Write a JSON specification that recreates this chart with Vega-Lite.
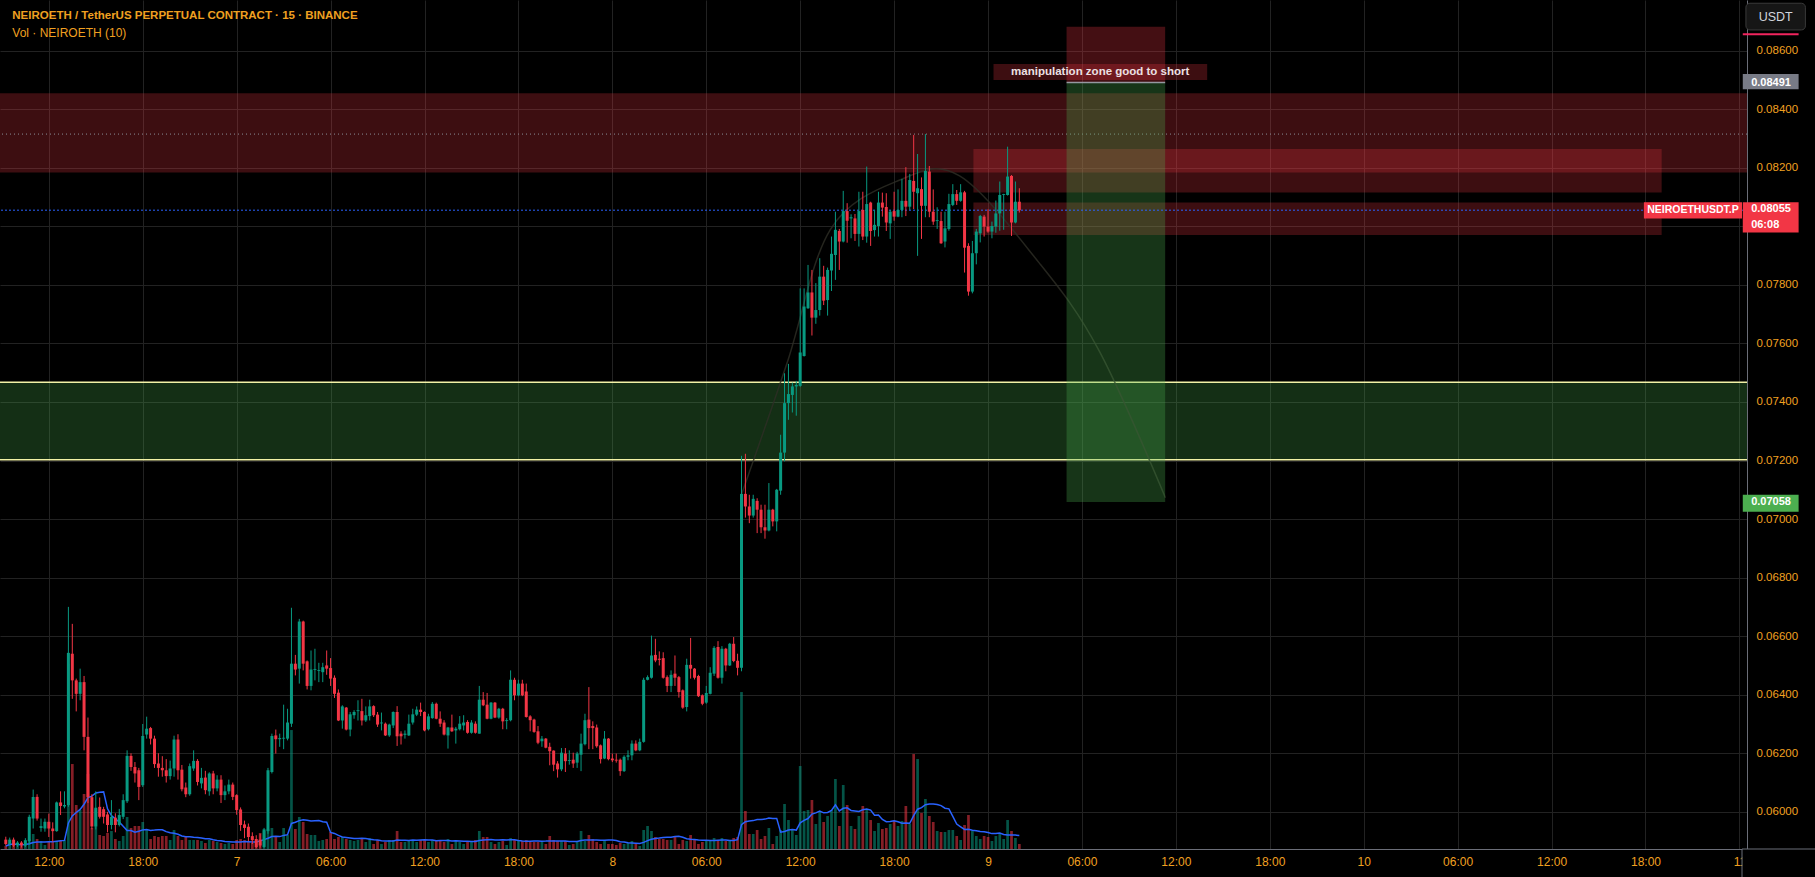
{
"$schema":"https://vega.github.io/schema/vega-lite/v6.json",
"width":1747,"height":849,
"autosize":{"type":"none"},
"padding":{"left":0,"top":0,"right":68,"bottom":28},
"background":"#000000",
"config":{"view":{"stroke":null},"text":{"font":"Liberation Sans"}},
"datasets":{
"candles":[
{"t":"2024-10-06T09:15Z","o":0.05905,"h":0.05915,"l":0.05885,"c":0.0589,"v":3},
{"t":"2024-10-06T09:30Z","o":0.0589,"h":0.05912,"l":0.05885,"c":0.05905,"v":6},
{"t":"2024-10-06T09:45Z","o":0.05905,"h":0.05912,"l":0.0588,"c":0.05885,"v":6},
{"t":"2024-10-06T10:00Z","o":0.05885,"h":0.059,"l":0.0588,"c":0.05895,"v":3},
{"t":"2024-10-06T10:15Z","o":0.05895,"h":0.059,"l":0.05878,"c":0.05885,"v":3},
{"t":"2024-10-06T10:30Z","o":0.05885,"h":0.0591,"l":0.0588,"c":0.05903,"v":6},
{"t":"2024-10-06T10:45Z","o":0.059,"h":0.0599,"l":0.05888,"c":0.05983,"v":10},
{"t":"2024-10-06T11:00Z","o":0.05977,"h":0.06076,"l":0.05943,"c":0.06051,"v":15},
{"t":"2024-10-06T11:15Z","o":0.06051,"h":0.0606,"l":0.0597,"c":0.05977,"v":10},
{"t":"2024-10-06T11:30Z","o":0.05945,"h":0.05977,"l":0.05932,"c":0.05951,"v":8},
{"t":"2024-10-06T11:45Z","o":0.05943,"h":0.05977,"l":0.05932,"c":0.05966,"v":4},
{"t":"2024-10-06T12:00Z","o":0.05966,"h":0.05994,"l":0.05914,"c":0.05943,"v":7},
{"t":"2024-10-06T12:15Z","o":0.05943,"h":0.05964,"l":0.05898,"c":0.05934,"v":7},
{"t":"2024-10-06T12:30Z","o":0.05934,"h":0.06035,"l":0.05932,"c":0.06032,"v":8},
{"t":"2024-10-06T12:45Z","o":0.06032,"h":0.0607,"l":0.05989,"c":0.0602,"v":8},
{"t":"2024-10-06T13:00Z","o":0.06018,"h":0.0607,"l":0.06012,"c":0.06023,"v":9},
{"t":"2024-10-06T13:15Z","o":0.06023,"h":0.067,"l":0.06017,"c":0.06543,"v":185},
{"t":"2024-10-06T13:30Z","o":0.0654,"h":0.06642,"l":0.06386,"c":0.06449,"v":85},
{"t":"2024-10-06T13:45Z","o":0.06449,"h":0.06455,"l":0.06343,"c":0.06403,"v":44},
{"t":"2024-10-06T14:00Z","o":0.06403,"h":0.06489,"l":0.06381,"c":0.06443,"v":39},
{"t":"2024-10-06T14:15Z","o":0.06443,"h":0.06464,"l":0.0621,"c":0.06256,"v":55},
{"t":"2024-10-06T14:30Z","o":0.06256,"h":0.06322,"l":0.0603,"c":0.0605,"v":75},
{"t":"2024-10-06T14:45Z","o":0.0605,"h":0.0606,"l":0.0594,"c":0.0595,"v":21},
{"t":"2024-10-06T15:00Z","o":0.0595,"h":0.0607,"l":0.0594,"c":0.06014,"v":40},
{"t":"2024-10-06T15:15Z","o":0.06017,"h":0.06049,"l":0.05977,"c":0.05983,"v":14},
{"t":"2024-10-06T15:30Z","o":0.06009,"h":0.06017,"l":0.0596,"c":0.05983,"v":13},
{"t":"2024-10-06T15:45Z","o":0.05991,"h":0.06,"l":0.0593,"c":0.05955,"v":16},
{"t":"2024-10-06T16:00Z","o":0.05955,"h":0.0604,"l":0.0594,"c":0.05983,"v":18},
{"t":"2024-10-06T16:15Z","o":0.0598,"h":0.05995,"l":0.0593,"c":0.05955,"v":10},
{"t":"2024-10-06T16:30Z","o":0.05955,"h":0.0601,"l":0.0595,"c":0.05989,"v":8},
{"t":"2024-10-06T16:45Z","o":0.05983,"h":0.0606,"l":0.05975,"c":0.0604,"v":13},
{"t":"2024-10-06T17:00Z","o":0.06036,"h":0.0621,"l":0.0603,"c":0.06191,"v":32},
{"t":"2024-10-06T17:15Z","o":0.06191,"h":0.062,"l":0.0614,"c":0.06153,"v":21},
{"t":"2024-10-06T17:30Z","o":0.06153,"h":0.0617,"l":0.061,"c":0.06131,"v":23},
{"t":"2024-10-06T17:45Z","o":0.06142,"h":0.0615,"l":0.0604,"c":0.06085,"v":23},
{"t":"2024-10-06T18:00Z","o":0.06091,"h":0.063,"l":0.06085,"c":0.06259,"v":27},
{"t":"2024-10-06T18:15Z","o":0.06264,"h":0.06325,"l":0.0625,"c":0.06284,"v":19},
{"t":"2024-10-06T18:30Z","o":0.06286,"h":0.0629,"l":0.0623,"c":0.0625,"v":10},
{"t":"2024-10-06T18:45Z","o":0.0625,"h":0.0626,"l":0.0615,"c":0.06163,"v":13},
{"t":"2024-10-06T19:00Z","o":0.06165,"h":0.062,"l":0.0612,"c":0.0615,"v":12},
{"t":"2024-10-06T19:15Z","o":0.0615,"h":0.0619,"l":0.0612,"c":0.06142,"v":13},
{"t":"2024-10-06T19:30Z","o":0.06142,"h":0.0618,"l":0.061,"c":0.06122,"v":13},
{"t":"2024-10-06T19:45Z","o":0.06122,"h":0.06175,"l":0.0611,"c":0.06148,"v":9},
{"t":"2024-10-06T20:00Z","o":0.06148,"h":0.0626,"l":0.0612,"c":0.06247,"v":19},
{"t":"2024-10-06T20:15Z","o":0.06247,"h":0.06265,"l":0.0611,"c":0.06142,"v":13},
{"t":"2024-10-06T20:30Z","o":0.06144,"h":0.0616,"l":0.0607,"c":0.06077,"v":9},
{"t":"2024-10-06T20:45Z","o":0.06083,"h":0.061,"l":0.0605,"c":0.0606,"v":12},
{"t":"2024-10-06T21:00Z","o":0.0606,"h":0.06165,"l":0.06055,"c":0.06156,"v":9},
{"t":"2024-10-06T21:15Z","o":0.06148,"h":0.0621,"l":0.0614,"c":0.06174,"v":9},
{"t":"2024-10-06T21:30Z","o":0.06174,"h":0.0618,"l":0.0609,"c":0.06102,"v":9},
{"t":"2024-10-06T21:45Z","o":0.06097,"h":0.0615,"l":0.0608,"c":0.06116,"v":8},
{"t":"2024-10-06T22:00Z","o":0.06117,"h":0.0614,"l":0.0606,"c":0.06074,"v":6},
{"t":"2024-10-06T22:15Z","o":0.0607,"h":0.06135,"l":0.06055,"c":0.06131,"v":9},
{"t":"2024-10-06T22:30Z","o":0.06131,"h":0.0614,"l":0.0606,"c":0.0608,"v":8},
{"t":"2024-10-06T22:45Z","o":0.0608,"h":0.06125,"l":0.0607,"c":0.0611,"v":7},
{"t":"2024-10-06T23:00Z","o":0.0611,"h":0.06125,"l":0.0603,"c":0.06057,"v":6},
{"t":"2024-10-06T23:15Z","o":0.06057,"h":0.0609,"l":0.0604,"c":0.0607,"v":5},
{"t":"2024-10-06T23:30Z","o":0.0607,"h":0.0611,"l":0.0606,"c":0.06093,"v":6},
{"t":"2024-10-06T23:45Z","o":0.06093,"h":0.061,"l":0.0604,"c":0.06051,"v":5},
{"t":"2024-10-07T00:00Z","o":0.06057,"h":0.0606,"l":0.0599,"c":0.06006,"v":9},
{"t":"2024-10-07T00:15Z","o":0.06008,"h":0.06015,"l":0.05935,"c":0.05955,"v":10},
{"t":"2024-10-07T00:30Z","o":0.05957,"h":0.0597,"l":0.0591,"c":0.05945,"v":9},
{"t":"2024-10-07T00:45Z","o":0.05949,"h":0.0596,"l":0.059,"c":0.05914,"v":7},
{"t":"2024-10-07T01:00Z","o":0.05917,"h":0.0593,"l":0.0589,"c":0.05903,"v":6},
{"t":"2024-10-07T01:15Z","o":0.05907,"h":0.0592,"l":0.05876,"c":0.0588,"v":8},
{"t":"2024-10-07T01:30Z","o":0.05905,"h":0.05925,"l":0.05878,"c":0.05885,"v":16},
{"t":"2024-10-07T01:45Z","o":0.0588,"h":0.05945,"l":0.05877,"c":0.0594,"v":18},
{"t":"2024-10-07T02:00Z","o":0.05934,"h":0.0615,"l":0.05925,"c":0.06142,"v":20},
{"t":"2024-10-07T02:15Z","o":0.06136,"h":0.06267,"l":0.06131,"c":0.06259,"v":21},
{"t":"2024-10-07T02:30Z","o":0.06261,"h":0.06281,"l":0.06199,"c":0.06248,"v":12},
{"t":"2024-10-07T02:45Z","o":0.06248,"h":0.06267,"l":0.06222,"c":0.06252,"v":7},
{"t":"2024-10-07T03:00Z","o":0.0625,"h":0.06366,"l":0.06214,"c":0.06253,"v":21},
{"t":"2024-10-07T03:15Z","o":0.0625,"h":0.06352,"l":0.06244,"c":0.06305,"v":14},
{"t":"2024-10-07T03:30Z","o":0.06301,"h":0.06697,"l":0.0629,"c":0.06506,"v":119},
{"t":"2024-10-07T03:45Z","o":0.06506,"h":0.06536,"l":0.06466,"c":0.06486,"v":20},
{"t":"2024-10-07T04:00Z","o":0.06489,"h":0.06659,"l":0.06438,"c":0.0665,"v":32},
{"t":"2024-10-07T04:15Z","o":0.0665,"h":0.06653,"l":0.06483,"c":0.06506,"v":27},
{"t":"2024-10-07T04:30Z","o":0.06514,"h":0.06517,"l":0.06418,"c":0.0643,"v":15},
{"t":"2024-10-07T04:45Z","o":0.0643,"h":0.06551,"l":0.06415,"c":0.06486,"v":14},
{"t":"2024-10-07T05:00Z","o":0.06485,"h":0.06557,"l":0.06449,"c":0.06488,"v":14},
{"t":"2024-10-07T05:15Z","o":0.06481,"h":0.06509,"l":0.06443,"c":0.06484,"v":8},
{"t":"2024-10-07T05:30Z","o":0.06477,"h":0.06509,"l":0.06443,"c":0.06494,"v":9},
{"t":"2024-10-07T05:45Z","o":0.065,"h":0.06551,"l":0.06468,"c":0.06489,"v":10},
{"t":"2024-10-07T06:00Z","o":0.06491,"h":0.06525,"l":0.0643,"c":0.06455,"v":17},
{"t":"2024-10-07T06:15Z","o":0.06458,"h":0.06466,"l":0.06389,"c":0.06403,"v":10},
{"t":"2024-10-07T06:30Z","o":0.06407,"h":0.06418,"l":0.0631,"c":0.06312,"v":12},
{"t":"2024-10-07T06:45Z","o":0.06312,"h":0.06364,"l":0.06284,"c":0.0636,"v":12},
{"t":"2024-10-07T07:00Z","o":0.06356,"h":0.06358,"l":0.06278,"c":0.06281,"v":10},
{"t":"2024-10-07T07:15Z","o":0.06281,"h":0.06341,"l":0.06258,"c":0.06333,"v":9},
{"t":"2024-10-07T07:30Z","o":0.0633,"h":0.06347,"l":0.06318,"c":0.06341,"v":8},
{"t":"2024-10-07T07:45Z","o":0.06344,"h":0.06381,"l":0.06312,"c":0.06347,"v":9},
{"t":"2024-10-07T08:00Z","o":0.06344,"h":0.06386,"l":0.06295,"c":0.06312,"v":10},
{"t":"2024-10-07T08:15Z","o":0.06312,"h":0.0636,"l":0.06307,"c":0.0633,"v":7},
{"t":"2024-10-07T08:30Z","o":0.06327,"h":0.06383,"l":0.06312,"c":0.0636,"v":11},
{"t":"2024-10-07T08:45Z","o":0.06361,"h":0.06364,"l":0.06324,"c":0.0633,"v":5},
{"t":"2024-10-07T09:00Z","o":0.06332,"h":0.06341,"l":0.0629,"c":0.06298,"v":9},
{"t":"2024-10-07T09:15Z","o":0.06302,"h":0.06339,"l":0.06278,"c":0.06305,"v":5},
{"t":"2024-10-07T09:30Z","o":0.06301,"h":0.06305,"l":0.06259,"c":0.06261,"v":7},
{"t":"2024-10-07T09:45Z","o":0.06261,"h":0.06301,"l":0.06256,"c":0.06298,"v":9},
{"t":"2024-10-07T10:00Z","o":0.06295,"h":0.06343,"l":0.06286,"c":0.06341,"v":9},
{"t":"2024-10-07T10:15Z","o":0.06341,"h":0.06361,"l":0.06225,"c":0.06258,"v":18},
{"t":"2024-10-07T10:30Z","o":0.06267,"h":0.06275,"l":0.0623,"c":0.06258,"v":7},
{"t":"2024-10-07T10:45Z","o":0.06263,"h":0.06278,"l":0.0625,"c":0.06267,"v":7},
{"t":"2024-10-07T11:00Z","o":0.06261,"h":0.06332,"l":0.06259,"c":0.06301,"v":9},
{"t":"2024-10-07T11:15Z","o":0.06305,"h":0.06352,"l":0.06298,"c":0.06333,"v":9},
{"t":"2024-10-07T11:30Z","o":0.06332,"h":0.0636,"l":0.06327,"c":0.06349,"v":7},
{"t":"2024-10-07T11:45Z","o":0.06349,"h":0.06373,"l":0.06327,"c":0.06341,"v":9},
{"t":"2024-10-07T12:00Z","o":0.06341,"h":0.06343,"l":0.06275,"c":0.06278,"v":9},
{"t":"2024-10-07T12:15Z","o":0.06282,"h":0.06335,"l":0.06278,"c":0.06326,"v":7},
{"t":"2024-10-07T12:30Z","o":0.0632,"h":0.06375,"l":0.06318,"c":0.06369,"v":9},
{"t":"2024-10-07T12:45Z","o":0.06369,"h":0.06373,"l":0.06316,"c":0.06318,"v":9},
{"t":"2024-10-07T13:00Z","o":0.06318,"h":0.06343,"l":0.0629,"c":0.06301,"v":9},
{"t":"2024-10-07T13:15Z","o":0.06305,"h":0.06313,"l":0.06261,"c":0.06264,"v":7},
{"t":"2024-10-07T13:30Z","o":0.06261,"h":0.0629,"l":0.06216,"c":0.06288,"v":10},
{"t":"2024-10-07T13:45Z","o":0.06288,"h":0.06332,"l":0.06273,"c":0.06275,"v":5},
{"t":"2024-10-07T14:00Z","o":0.06278,"h":0.0629,"l":0.06233,"c":0.06284,"v":9},
{"t":"2024-10-07T14:15Z","o":0.06282,"h":0.06327,"l":0.06278,"c":0.06301,"v":7},
{"t":"2024-10-07T14:30Z","o":0.06295,"h":0.0633,"l":0.06278,"c":0.06305,"v":5},
{"t":"2024-10-07T14:45Z","o":0.06307,"h":0.06313,"l":0.06267,"c":0.0627,"v":7},
{"t":"2024-10-07T15:00Z","o":0.0627,"h":0.06313,"l":0.06267,"c":0.06305,"v":8},
{"t":"2024-10-07T15:15Z","o":0.06301,"h":0.06309,"l":0.06267,"c":0.0627,"v":9},
{"t":"2024-10-07T15:30Z","o":0.06267,"h":0.0643,"l":0.06267,"c":0.06383,"v":18},
{"t":"2024-10-07T15:45Z","o":0.06383,"h":0.06409,"l":0.06361,"c":0.06364,"v":12},
{"t":"2024-10-07T16:00Z","o":0.06366,"h":0.06406,"l":0.06316,"c":0.06318,"v":12},
{"t":"2024-10-07T16:15Z","o":0.06318,"h":0.06375,"l":0.06316,"c":0.06373,"v":7},
{"t":"2024-10-07T16:30Z","o":0.06373,"h":0.06375,"l":0.0632,"c":0.06322,"v":5},
{"t":"2024-10-07T16:45Z","o":0.06322,"h":0.06355,"l":0.06318,"c":0.06352,"v":7},
{"t":"2024-10-07T17:00Z","o":0.06352,"h":0.06355,"l":0.06282,"c":0.06309,"v":8},
{"t":"2024-10-07T17:15Z","o":0.0631,"h":0.0632,"l":0.06282,"c":0.06313,"v":4},
{"t":"2024-10-07T17:30Z","o":0.06313,"h":0.06483,"l":0.06309,"c":0.06451,"v":11},
{"t":"2024-10-07T17:45Z","o":0.06451,"h":0.06458,"l":0.06381,"c":0.06398,"v":9},
{"t":"2024-10-07T18:00Z","o":0.06398,"h":0.06451,"l":0.06395,"c":0.06438,"v":9},
{"t":"2024-10-07T18:15Z","o":0.06438,"h":0.06451,"l":0.06395,"c":0.06398,"v":8},
{"t":"2024-10-07T18:30Z","o":0.06411,"h":0.06438,"l":0.06322,"c":0.06324,"v":9},
{"t":"2024-10-07T18:45Z","o":0.06326,"h":0.0633,"l":0.06275,"c":0.06313,"v":7},
{"t":"2024-10-07T19:00Z","o":0.06315,"h":0.06318,"l":0.0627,"c":0.06273,"v":7},
{"t":"2024-10-07T19:15Z","o":0.06275,"h":0.06293,"l":0.06231,"c":0.06236,"v":7},
{"t":"2024-10-07T19:30Z","o":0.06241,"h":0.06259,"l":0.06222,"c":0.0625,"v":7},
{"t":"2024-10-07T19:45Z","o":0.0625,"h":0.06252,"l":0.06217,"c":0.06219,"v":5},
{"t":"2024-10-07T20:00Z","o":0.06222,"h":0.06236,"l":0.06159,"c":0.06207,"v":13},
{"t":"2024-10-07T20:15Z","o":0.06209,"h":0.0621,"l":0.06139,"c":0.06161,"v":9},
{"t":"2024-10-07T20:30Z","o":0.06165,"h":0.06173,"l":0.06117,"c":0.06145,"v":8},
{"t":"2024-10-07T20:45Z","o":0.06145,"h":0.06218,"l":0.06139,"c":0.06202,"v":8},
{"t":"2024-10-07T21:00Z","o":0.06199,"h":0.06218,"l":0.06136,"c":0.06173,"v":8},
{"t":"2024-10-07T21:15Z","o":0.06174,"h":0.0621,"l":0.06161,"c":0.06177,"v":4},
{"t":"2024-10-07T21:30Z","o":0.06178,"h":0.06202,"l":0.0615,"c":0.06165,"v":5},
{"t":"2024-10-07T21:45Z","o":0.06168,"h":0.06205,"l":0.0615,"c":0.06199,"v":8},
{"t":"2024-10-07T22:00Z","o":0.06195,"h":0.06267,"l":0.06139,"c":0.06233,"v":18},
{"t":"2024-10-07T22:15Z","o":0.06231,"h":0.06335,"l":0.06227,"c":0.06313,"v":8},
{"t":"2024-10-07T22:30Z","o":0.06315,"h":0.06426,"l":0.06214,"c":0.06286,"v":14},
{"t":"2024-10-07T22:45Z","o":0.06293,"h":0.06309,"l":0.06214,"c":0.06286,"v":10},
{"t":"2024-10-07T23:00Z","o":0.06288,"h":0.06298,"l":0.06219,"c":0.06224,"v":7},
{"t":"2024-10-07T23:15Z","o":0.06227,"h":0.0623,"l":0.06165,"c":0.0618,"v":5},
{"t":"2024-10-07T23:30Z","o":0.06182,"h":0.06276,"l":0.0618,"c":0.0625,"v":9},
{"t":"2024-10-07T23:45Z","o":0.0625,"h":0.06252,"l":0.06176,"c":0.0618,"v":5},
{"t":"2024-10-08T00:00Z","o":0.06182,"h":0.06199,"l":0.0617,"c":0.06176,"v":5},
{"t":"2024-10-08T00:15Z","o":0.06178,"h":0.06199,"l":0.06168,"c":0.06175,"v":4},
{"t":"2024-10-08T00:30Z","o":0.06178,"h":0.06182,"l":0.06123,"c":0.06139,"v":6},
{"t":"2024-10-08T00:45Z","o":0.06139,"h":0.06193,"l":0.06136,"c":0.06188,"v":5},
{"t":"2024-10-08T01:00Z","o":0.06188,"h":0.0621,"l":0.06176,"c":0.06193,"v":6},
{"t":"2024-10-08T01:15Z","o":0.06193,"h":0.06244,"l":0.06176,"c":0.06233,"v":8},
{"t":"2024-10-08T01:30Z","o":0.06233,"h":0.06244,"l":0.06207,"c":0.0621,"v":5},
{"t":"2024-10-08T01:45Z","o":0.0621,"h":0.0625,"l":0.06207,"c":0.06239,"v":3},
{"t":"2024-10-08T02:00Z","o":0.06239,"h":0.06458,"l":0.06236,"c":0.06451,"v":19},
{"t":"2024-10-08T02:15Z","o":0.06451,"h":0.06466,"l":0.06449,"c":0.0646,"v":23},
{"t":"2024-10-08T02:30Z","o":0.06458,"h":0.06602,"l":0.06455,"c":0.06534,"v":18},
{"t":"2024-10-08T02:45Z","o":0.06536,"h":0.06591,"l":0.06511,"c":0.06517,"v":12},
{"t":"2024-10-08T03:00Z","o":0.06523,"h":0.06548,"l":0.065,"c":0.06519,"v":10},
{"t":"2024-10-08T03:15Z","o":0.06525,"h":0.06545,"l":0.06455,"c":0.06458,"v":10},
{"t":"2024-10-08T03:30Z","o":0.0646,"h":0.06466,"l":0.06409,"c":0.0643,"v":9},
{"t":"2024-10-08T03:45Z","o":0.0643,"h":0.06483,"l":0.06409,"c":0.06468,"v":9},
{"t":"2024-10-08T04:00Z","o":0.06472,"h":0.06534,"l":0.0643,"c":0.06458,"v":12},
{"t":"2024-10-08T04:15Z","o":0.0646,"h":0.06464,"l":0.0639,"c":0.06409,"v":5},
{"t":"2024-10-08T04:30Z","o":0.06415,"h":0.06418,"l":0.06352,"c":0.06356,"v":9},
{"t":"2024-10-08T04:45Z","o":0.06358,"h":0.06523,"l":0.06343,"c":0.06502,"v":8},
{"t":"2024-10-08T05:00Z","o":0.06502,"h":0.06594,"l":0.06455,"c":0.06489,"v":14},
{"t":"2024-10-08T05:15Z","o":0.06489,"h":0.06491,"l":0.06452,"c":0.06458,"v":10},
{"t":"2024-10-08T05:30Z","o":0.06464,"h":0.06468,"l":0.06392,"c":0.06395,"v":5},
{"t":"2024-10-08T05:45Z","o":0.06398,"h":0.06401,"l":0.06364,"c":0.06369,"v":7},
{"t":"2024-10-08T06:00Z","o":0.06373,"h":0.0643,"l":0.06369,"c":0.06406,"v":8},
{"t":"2024-10-08T06:15Z","o":0.06403,"h":0.06494,"l":0.06401,"c":0.06475,"v":8},
{"t":"2024-10-08T06:30Z","o":0.06472,"h":0.06566,"l":0.06464,"c":0.0656,"v":11},
{"t":"2024-10-08T06:45Z","o":0.06563,"h":0.06583,"l":0.06455,"c":0.06458,"v":8},
{"t":"2024-10-08T07:00Z","o":0.06458,"h":0.06566,"l":0.06438,"c":0.06557,"v":11},
{"t":"2024-10-08T07:15Z","o":0.06557,"h":0.0656,"l":0.0648,"c":0.065,"v":8},
{"t":"2024-10-08T07:30Z","o":0.065,"h":0.06577,"l":0.06498,"c":0.06574,"v":9},
{"t":"2024-10-08T07:45Z","o":0.06574,"h":0.06597,"l":0.06511,"c":0.06515,"v":11},
{"t":"2024-10-08T08:00Z","o":0.06516,"h":0.0654,"l":0.06466,"c":0.06492,"v":12},
{"t":"2024-10-08T08:15Z","o":0.06492,"h":0.07216,"l":0.0648,"c":0.07086,"v":157},
{"t":"2024-10-08T08:30Z","o":0.07086,"h":0.07223,"l":0.07005,"c":0.07043,"v":38},
{"t":"2024-10-08T08:45Z","o":0.07043,"h":0.07083,"l":0.06986,"c":0.07012,"v":15},
{"t":"2024-10-08T09:00Z","o":0.07012,"h":0.07083,"l":0.07005,"c":0.07069,"v":15},
{"t":"2024-10-08T09:15Z","o":0.07062,"h":0.07071,"l":0.06952,"c":0.07032,"v":19},
{"t":"2024-10-08T09:30Z","o":0.07032,"h":0.07049,"l":0.06952,"c":0.06972,"v":10},
{"t":"2024-10-08T09:45Z","o":0.06972,"h":0.07049,"l":0.06933,"c":0.06961,"v":13},
{"t":"2024-10-08T10:00Z","o":0.06961,"h":0.07123,"l":0.06958,"c":0.07032,"v":21},
{"t":"2024-10-08T10:15Z","o":0.07032,"h":0.07035,"l":0.06975,"c":0.06992,"v":5},
{"t":"2024-10-08T10:30Z","o":0.06992,"h":0.07103,"l":0.06958,"c":0.071,"v":13},
{"t":"2024-10-08T10:45Z","o":0.07097,"h":0.07288,"l":0.07083,"c":0.07227,"v":19},
{"t":"2024-10-08T11:00Z","o":0.07227,"h":0.07498,"l":0.07197,"c":0.07396,"v":45},
{"t":"2024-10-08T11:15Z","o":0.07396,"h":0.0753,"l":0.07339,"c":0.07427,"v":29},
{"t":"2024-10-08T11:30Z","o":0.07424,"h":0.07466,"l":0.07364,"c":0.07453,"v":20},
{"t":"2024-10-08T11:45Z","o":0.07453,"h":0.07472,"l":0.07353,"c":0.07458,"v":14},
{"t":"2024-10-08T12:00Z","o":0.07455,"h":0.07788,"l":0.07452,"c":0.07569,"v":83},
{"t":"2024-10-08T12:15Z","o":0.07557,"h":0.07788,"l":0.07555,"c":0.07726,"v":38},
{"t":"2024-10-08T12:30Z","o":0.0772,"h":0.07868,"l":0.07718,"c":0.07774,"v":39},
{"t":"2024-10-08T12:45Z","o":0.07774,"h":0.07851,"l":0.07627,"c":0.07688,"v":49},
{"t":"2024-10-08T13:00Z","o":0.07688,"h":0.07806,"l":0.07667,"c":0.07714,"v":25},
{"t":"2024-10-08T13:15Z","o":0.07714,"h":0.07891,"l":0.07695,"c":0.07828,"v":38},
{"t":"2024-10-08T13:30Z","o":0.07828,"h":0.07865,"l":0.07731,"c":0.07746,"v":27},
{"t":"2024-10-08T13:45Z","o":0.07748,"h":0.07859,"l":0.07695,"c":0.07851,"v":33},
{"t":"2024-10-08T14:00Z","o":0.07849,"h":0.07965,"l":0.07779,"c":0.07906,"v":39},
{"t":"2024-10-08T14:15Z","o":0.07902,"h":0.0805,"l":0.07817,"c":0.07988,"v":70},
{"t":"2024-10-08T14:30Z","o":0.07984,"h":0.07991,"l":0.07851,"c":0.07948,"v":23},
{"t":"2024-10-08T14:45Z","o":0.07948,"h":0.08121,"l":0.07945,"c":0.08052,"v":64},
{"t":"2024-10-08T15:00Z","o":0.08052,"h":0.08079,"l":0.07944,"c":0.08019,"v":44},
{"t":"2024-10-08T15:15Z","o":0.08027,"h":0.08041,"l":0.07959,"c":0.08031,"v":23},
{"t":"2024-10-08T15:30Z","o":0.08027,"h":0.08042,"l":0.0795,"c":0.07974,"v":20},
{"t":"2024-10-08T15:45Z","o":0.07974,"h":0.08118,"l":0.07931,"c":0.08052,"v":33},
{"t":"2024-10-08T16:00Z","o":0.08056,"h":0.08118,"l":0.07953,"c":0.07965,"v":43},
{"t":"2024-10-08T16:15Z","o":0.07965,"h":0.08204,"l":0.07944,"c":0.08076,"v":40},
{"t":"2024-10-08T16:30Z","o":0.08081,"h":0.08084,"l":0.07933,"c":0.07984,"v":29},
{"t":"2024-10-08T16:45Z","o":0.07987,"h":0.08056,"l":0.07965,"c":0.08005,"v":18},
{"t":"2024-10-08T17:00Z","o":0.08001,"h":0.08118,"l":0.07965,"c":0.08081,"v":26},
{"t":"2024-10-08T17:15Z","o":0.08081,"h":0.08115,"l":0.08033,"c":0.08064,"v":20},
{"t":"2024-10-08T17:30Z","o":0.08066,"h":0.08113,"l":0.07984,"c":0.08013,"v":21},
{"t":"2024-10-08T17:45Z","o":0.0801,"h":0.08056,"l":0.07957,"c":0.0805,"v":25},
{"t":"2024-10-08T18:00Z","o":0.08052,"h":0.08118,"l":0.08019,"c":0.08033,"v":28},
{"t":"2024-10-08T18:15Z","o":0.08033,"h":0.08126,"l":0.08031,"c":0.08056,"v":23},
{"t":"2024-10-08T18:30Z","o":0.08056,"h":0.08162,"l":0.08031,"c":0.08087,"v":28},
{"t":"2024-10-08T18:45Z","o":0.08087,"h":0.08202,"l":0.08035,"c":0.08067,"v":43},
{"t":"2024-10-08T19:00Z","o":0.08067,"h":0.08179,"l":0.08056,"c":0.08158,"v":25},
{"t":"2024-10-08T19:15Z","o":0.08155,"h":0.08312,"l":0.08059,"c":0.08118,"v":95},
{"t":"2024-10-08T19:30Z","o":0.08113,"h":0.08247,"l":0.07899,"c":0.0813,"v":90},
{"t":"2024-10-08T19:45Z","o":0.08127,"h":0.08167,"l":0.07957,"c":0.0807,"v":36},
{"t":"2024-10-08T20:00Z","o":0.0807,"h":0.08315,"l":0.08031,"c":0.08189,"v":50},
{"t":"2024-10-08T20:15Z","o":0.08187,"h":0.08206,"l":0.08031,"c":0.0805,"v":33},
{"t":"2024-10-08T20:30Z","o":0.0805,"h":0.08126,"l":0.08005,"c":0.08016,"v":27},
{"t":"2024-10-08T20:45Z","o":0.08018,"h":0.08065,"l":0.07991,"c":0.08021,"v":18},
{"t":"2024-10-08T21:00Z","o":0.08018,"h":0.0805,"l":0.0794,"c":0.07942,"v":17},
{"t":"2024-10-08T21:15Z","o":0.07948,"h":0.0805,"l":0.07928,"c":0.07993,"v":17},
{"t":"2024-10-08T21:30Z","o":0.07991,"h":0.08111,"l":0.07985,"c":0.08076,"v":19},
{"t":"2024-10-08T21:45Z","o":0.08073,"h":0.08144,"l":0.08069,"c":0.0811,"v":19},
{"t":"2024-10-08T22:00Z","o":0.0811,"h":0.08124,"l":0.08073,"c":0.08087,"v":13},
{"t":"2024-10-08T22:15Z","o":0.08087,"h":0.08144,"l":0.08084,"c":0.08116,"v":9},
{"t":"2024-10-08T22:30Z","o":0.08116,"h":0.08121,"l":0.07842,"c":0.07927,"v":24},
{"t":"2024-10-08T22:45Z","o":0.07933,"h":0.07942,"l":0.07763,"c":0.07777,"v":34},
{"t":"2024-10-08T23:00Z","o":0.07777,"h":0.0795,"l":0.07771,"c":0.07908,"v":18},
{"t":"2024-10-08T23:15Z","o":0.07908,"h":0.07991,"l":0.0787,"c":0.07982,"v":13},
{"t":"2024-10-08T23:30Z","o":0.07976,"h":0.08039,"l":0.07945,"c":0.08035,"v":10},
{"t":"2024-10-08T23:45Z","o":0.08033,"h":0.08039,"l":0.07965,"c":0.07999,"v":13},
{"t":"2024-10-09T00:00Z","o":0.07999,"h":0.08058,"l":0.07978,"c":0.07982,"v":12},
{"t":"2024-10-09T00:15Z","o":0.07982,"h":0.08016,"l":0.07959,"c":0.08001,"v":8},
{"t":"2024-10-09T00:30Z","o":0.07999,"h":0.08088,"l":0.07978,"c":0.08044,"v":13},
{"t":"2024-10-09T00:45Z","o":0.08044,"h":0.08153,"l":0.07985,"c":0.08107,"v":15},
{"t":"2024-10-09T01:00Z","o":0.08107,"h":0.08111,"l":0.07988,"c":0.0811,"v":10},
{"t":"2024-10-09T01:15Z","o":0.08107,"h":0.08272,"l":0.08105,"c":0.0817,"v":29},
{"t":"2024-10-09T01:30Z","o":0.08172,"h":0.08175,"l":0.07967,"c":0.08013,"v":18},
{"t":"2024-10-09T01:45Z","o":0.08013,"h":0.08153,"l":0.0801,"c":0.08084,"v":11},
{"t":"2024-10-09T02:00Z","o":0.08084,"h":0.0813,"l":0.08047,"c":0.08055,"v":5}
]
},
"resolve":{"scale":{"y":"independent"}},
"layer":[
{
"layer":[
{"data":{"values":[{"lo":0.081834,"hi":0.084545,"zone":"resistance"},{"lo":0.072024,"hi":0.074677,"zone":"support"}]},
 "mark":{"type":"rect"},
 "encoding":{
  "y":{"field":"lo","type":"quantitative","title":null,"scale":{"domain":[0.05873,0.08773],"nice":false,"zero":false},
   "axis":{"title":null,"orient":"right","values":[0.06,0.062,0.064,0.066,0.068,0.07,0.072,0.074,0.076,0.078,0.08,0.082,0.084,0.086],"labelExpr":"abs(datum.value - 0.08) < 0.000001 ? '' : format(datum.value, '.5f')","grid":true,"gridColor":"#222222","ticks":false,"labelPadding":9,"labelColor":"#f0a020","labelFont":"Liberation Sans","labelFontSize":11.5,"domainColor":"#6b6e78","labelOverlap":false,"labelFlush":false}},
  "y2":{"field":"hi"},
  "color":{"field":"zone","type":"nominal","scale":{"domain":["resistance","support"],"range":["#f23645","#4caf50"]},"legend":null},
  "opacity":{"field":"zone","type":"nominal","scale":{"domain":["resistance","support"],"range":[0.25,0.3]},"legend":null}}},
{"data":{"values":[{"t1":"2024-10-08T23:04Z","t2":"2024-10-10T19:02Z","lo":0.081151,"hi":0.082643},{"t1":"2024-10-08T23:04Z","t2":"2024-10-10T19:02Z","lo":0.079707,"hi":0.080813}]},
 "mark":{"type":"rect","color":"#f23645","opacity":0.25},
 "encoding":{
  "x":{"field":"t1","type":"temporal","title":null,"scale":{"type":"utc","domain":[{"year":2024,"month":10,"date":6,"hours":9,"minutes":12,"utc":true},{"year":2024,"month":10,"date":11,"hours":0,"minutes":10,"utc":true}],"nice":false},
   "axis":{"title":null,"orient":"bottom","values":[
    {"year":2024,"month":10,"date":6,"hours":12,"utc":true},{"year":2024,"month":10,"date":6,"hours":18,"utc":true},
    {"year":2024,"month":10,"date":7,"hours":0,"utc":true},{"year":2024,"month":10,"date":7,"hours":6,"utc":true},{"year":2024,"month":10,"date":7,"hours":12,"utc":true},{"year":2024,"month":10,"date":7,"hours":18,"utc":true},
    {"year":2024,"month":10,"date":8,"hours":0,"utc":true},{"year":2024,"month":10,"date":8,"hours":6,"utc":true},{"year":2024,"month":10,"date":8,"hours":12,"utc":true},{"year":2024,"month":10,"date":8,"hours":18,"utc":true},
    {"year":2024,"month":10,"date":9,"hours":0,"utc":true},{"year":2024,"month":10,"date":9,"hours":6,"utc":true},{"year":2024,"month":10,"date":9,"hours":12,"utc":true},{"year":2024,"month":10,"date":9,"hours":18,"utc":true},
    {"year":2024,"month":10,"date":10,"hours":0,"utc":true},{"year":2024,"month":10,"date":10,"hours":6,"utc":true},{"year":2024,"month":10,"date":10,"hours":12,"utc":true},{"year":2024,"month":10,"date":10,"hours":18,"utc":true},
    {"year":2024,"month":10,"date":11,"hours":0,"utc":true}],
    "labelExpr":"utchours(datum.value)==0 ? utcFormat(datum.value,'%-d') : utcFormat(datum.value,'%H:%M')","grid":true,"gridColor":"#222222","ticks":false,"labelPadding":7,"labelColor":"#f0a020","labelFont":"Liberation Sans","labelFontSize":12,"domainColor":"#6b6e78","labelOverlap":false,"labelFlush":false}},
  "x2":{"field":"t2"},
  "y":{"field":"lo","type":"quantitative","title":null},
  "y2":{"field":"hi"}}},
{"data":{"values":[{"p":0.074677},{"p":0.072024}]},
 "mark":{"type":"rule","color":"#f2f2a6","strokeWidth":1.5},
 "encoding":{"y":{"field":"p","type":"quantitative","title":null}}},
{"data":{"values":[{"p":0.08315}]},
 "mark":{"type":"rule","color":"#8a8d96","strokeWidth":1,"strokeDash":[1,3]},
 "encoding":{"y":{"field":"p","type":"quantitative","title":null}}},
{"data":{"values":[{"t":"2024-10-08T08:12Z","p":0.07076},{"t":"2024-10-08T11:10Z","p":0.07534},{"t":"2024-10-08T13:55Z","p":0.07988},{"t":"2024-10-08T18:22Z","p":0.08158},{"t":"2024-10-08T22:11Z","p":0.08172},{"t":"2024-10-09T03:16Z","p":0.07875},{"t":"2024-10-09T07:04Z","p":0.07578},{"t":"2024-10-09T11:20Z","p":0.07073}]},
 "mark":{"type":"line","color":"#2e2e26","strokeWidth":1.5,"opacity":0.8,"interpolate":"cardinal"},
 "encoding":{
  "x":{"field":"t","type":"temporal","title":null},
  "y":{"field":"p","type":"quantitative","title":null}}},
{"data":{"values":[{"t1":"2024-10-09T05:01Z","t2":"2024-10-09T11:19Z","lo":0.08491,"hi":0.08682,"side":"stop"},{"t1":"2024-10-09T05:01Z","t2":"2024-10-09T11:19Z","lo":0.07058,"hi":0.08491,"side":"target"}]},
 "mark":{"type":"rect"},
 "encoding":{
  "x":{"field":"t1","type":"temporal","title":null},
  "x2":{"field":"t2"},
  "y":{"field":"lo","type":"quantitative","title":null},
  "y2":{"field":"hi"},
  "color":{"field":"side","type":"nominal","scale":{"domain":["stop","target"],"range":["#c2185b","#4caf50"]},"legend":null},
  "opacity":{"field":"side","type":"nominal","scale":{"domain":["stop","target"],"range":[0.4,0.45]},"legend":null}}},
{"data":{"values":[{"t1":"2024-10-09T05:01Z","t2":"2024-10-09T11:19Z","p":0.08491}]},
 "mark":{"type":"rule","color":"#9598a1","strokeWidth":1.5},
 "encoding":{
  "x":{"field":"t1","type":"temporal","title":null},
  "x2":{"field":"t2"},
  "y":{"field":"p","type":"quantitative","title":null}}}
]
},
{
"data":{"name":"candles"},
"layer":[
{"mark":{"type":"bar","size":2.7,"opacity":0.55},
 "encoding":{
  "x":{"field":"t","type":"temporal","title":null},
  "y":{"field":"v","type":"quantitative","scale":{"domain":[0,849.3],"nice":false},"axis":null},
  "color":{"condition":{"test":"datum.c >= datum.o","value":"#089981"},"value":"#f23645"}}},
{"transform":[{"window":[{"op":"mean","field":"v","as":"ma"}],"frame":[-9,0],"sort":[{"field":"t"}]}],
 "mark":{"type":"line","color":"#2962ff","strokeWidth":1.5},
 "encoding":{
  "x":{"field":"t","type":"temporal","title":null},
  "y":{"field":"ma","type":"quantitative","axis":null}}}
]
},
{
"layer":[
{"data":{"values":[{"p":0.08055}]},
 "mark":{"type":"rule","color":"#2962ff","strokeWidth":1,"strokeDash":[2,2]},
 "encoding":{"y":{"field":"p","type":"quantitative","scale":{"domain":[0.05873,0.08773],"nice":false,"zero":false},"axis":null}}},
{"data":{"name":"candles"},
 "mark":{"type":"rule","strokeWidth":1},
 "encoding":{
  "x":{"field":"t","type":"temporal","title":null},
  "y":{"field":"l","type":"quantitative","axis":null},
  "y2":{"field":"h"},
  "color":{"condition":{"test":"datum.c >= datum.o","value":"#089981"},"value":"#f23645"}}},
{"data":{"name":"candles"},
 "mark":{"type":"bar","size":3},
 "encoding":{
  "x":{"field":"t","type":"temporal","title":null},
  "y":{"field":"o","type":"quantitative","axis":null},
  "y2":{"field":"c"},
  "color":{"condition":{"test":"datum.c >= datum.o","value":"#089981"},"value":"#f23645"}}},
{"data":{"values":[{"t1":"2024-10-09T00:21Z","t2":"2024-10-09T14:00Z","lo":0.085,"hi":0.085546}]},
 "mark":{"type":"rect","color":"#f23645","opacity":0.25},
 "encoding":{
  "x":{"field":"t1","type":"temporal","title":null},
  "x2":{"field":"t2"},
  "y":{"field":"lo","type":"quantitative","axis":null},
  "y2":{"field":"hi"}}},
{"data":{"values":[{"t":"2024-10-09T07:10Z","p":0.085273,"label":"manipulation zone good to short"}]},
 "mark":{"type":"text","color":"#ece0e3","fontSize":11.5,"fontWeight":"bold","align":"center","baseline":"middle"},
 "encoding":{
  "x":{"field":"t","type":"temporal","title":null},
  "y":{"field":"p","type":"quantitative","axis":null},
  "text":{"field":"label"}}},
{"data":{"values":[{"t":"2024-10-06T09:40Z","p":0.087185,"label":"NEIROETH / TetherUS PERPETUAL CONTRACT · 15 · BINANCE"}]},
 "mark":{"type":"text","color":"#f0a020","fontSize":11.5,"fontWeight":"bold","align":"left","baseline":"middle"},
 "encoding":{
  "x":{"field":"t","type":"temporal","title":null},
  "y":{"field":"p","type":"quantitative","axis":null},
  "text":{"field":"label"}}},
{"data":{"values":[{"t":"2024-10-06T09:40Z","p":0.086594,"label":"Vol · NEIROETH (10)"}]},
 "mark":{"type":"text","color":"#f0a020","fontSize":12,"align":"left","baseline":"middle"},
 "encoding":{
  "x":{"field":"t","type":"temporal","title":null},
  "y":{"field":"p","type":"quantitative","axis":null},
  "text":{"field":"label"}}},
{"data":{"values":[{"t1":"2024-10-11T00:11Z","t2":"2024-10-11T05:00Z","lo":0.0577,"hi":0.058728}]},
 "mark":{"type":"rect","color":"#000000"},
 "encoding":{
  "x":{"field":"t1","type":"temporal","title":null},"x2":{"field":"t2"},
  "y":{"field":"lo","type":"quantitative","axis":null},"y2":{"field":"hi"}}},
{"data":{"values":[{"t1":"2024-10-11T00:10Z","t2":"2024-10-11T05:00Z","p":0.05873}]},
 "mark":{"type":"rule","color":"#6b6e78","strokeWidth":1},
 "encoding":{
  "x":{"field":"t1","type":"temporal","title":null},"x2":{"field":"t2"},
  "y":{"field":"p","type":"quantitative","axis":null}}},
{"data":{"values":[{"t":"2024-10-11T00:10Z","lo":0.0577,"hi":0.05873}]},
 "mark":{"type":"rule","color":"#6b6e78","strokeWidth":1},
 "encoding":{
  "x":{"field":"t","type":"temporal","title":null},
  "y":{"field":"lo","type":"quantitative","axis":null},"y2":{"field":"hi"}}},
{"data":{"values":[{"t1":"2024-10-11T00:13Z","t2":"2024-10-11T03:47Z","lo":0.084682,"hi":0.085204}]},
 "mark":{"type":"rect","color":"#787b86"},
 "encoding":{
  "x":{"field":"t1","type":"temporal","title":null},"x2":{"field":"t2"},
  "y":{"field":"lo","type":"quantitative","axis":null},"y2":{"field":"hi"}}},
{"data":{"values":[{"t1":"2024-10-11T00:13Z","t2":"2024-10-11T03:47Z","lo":0.070251,"hi":0.070828}]},
 "mark":{"type":"rect","color":"#4caf50"},
 "encoding":{
  "x":{"field":"t1","type":"temporal","title":null},"x2":{"field":"t2"},
  "y":{"field":"lo","type":"quantitative","axis":null},"y2":{"field":"hi"}}},
{"data":{"values":[{"t1":"2024-10-11T00:13Z","t2":"2024-10-11T03:47Z","lo":0.079785,"hi":0.080823},{"t1":"2024-10-10T17:54Z","t2":"2024-10-11T00:10Z","lo":0.080263,"hi":0.080823}]},
 "mark":{"type":"rect","color":"#f23645"},
 "encoding":{
  "x":{"field":"t1","type":"temporal","title":null},"x2":{"field":"t2"},
  "y":{"field":"lo","type":"quantitative","axis":null},"y2":{"field":"hi"}}},
{"data":{"values":[{"t1":"2024-10-11T00:25Z","t2":"2024-10-11T04:13Z","lo":0.086707,"hi":0.087619}]},
 "mark":{"type":"rect","color":"#161616","stroke":"#3a3a3a","strokeWidth":1,"cornerRadius":4},
 "encoding":{
  "x":{"field":"t1","type":"temporal","title":null},"x2":{"field":"t2"},
  "y":{"field":"lo","type":"quantitative","axis":null},"y2":{"field":"hi"}}},
{"data":{"values":[{"t1":"2024-10-11T00:13Z","t2":"2024-10-11T03:47Z","p":0.08656}]},
 "mark":{"type":"rule","color":"#f0245e","strokeWidth":2},
 "encoding":{
  "x":{"field":"t1","type":"temporal","title":null},"x2":{"field":"t2"},
  "y":{"field":"p","type":"quantitative","axis":null}}},
{"data":{"values":[{"t":"2024-10-11T00:45Z","p":0.08491,"label":"0.08491"},{"t":"2024-10-11T00:45Z","p":0.07058,"label":"0.07058"},{"t":"2024-10-11T00:45Z","p":0.08059,"label":"0.08055"},{"t":"2024-10-11T00:45Z","p":0.08003,"label":"06:08"}]},
 "mark":{"type":"text","color":"#ffffff","fontSize":11,"fontWeight":"bold","align":"left","baseline":"middle"},
 "encoding":{
  "x":{"field":"t","type":"temporal","title":null},
  "y":{"field":"p","type":"quantitative","axis":null},
  "text":{"field":"label"}}},
{"data":{"values":[{"t":"2024-10-10T21:02Z","p":0.08055,"label":"NEIROETHUSDT.P"}]},
 "mark":{"type":"text","color":"#ffffff","fontSize":10.5,"fontWeight":"bold","align":"center","baseline":"middle"},
 "encoding":{
  "x":{"field":"t","type":"temporal","title":null},
  "y":{"field":"p","type":"quantitative","axis":null},
  "text":{"field":"label"}}},
{"data":{"values":[{"t":"2024-10-11T02:19Z","p":0.087161,"label":"USDT"}]},
 "mark":{"type":"text","color":"#d1d4dc","fontSize":12.5,"align":"center","baseline":"middle"},
 "encoding":{
  "x":{"field":"t","type":"temporal","title":null},
  "y":{"field":"p","type":"quantitative","axis":null},
  "text":{"field":"label"}}}
]
}
]
}
